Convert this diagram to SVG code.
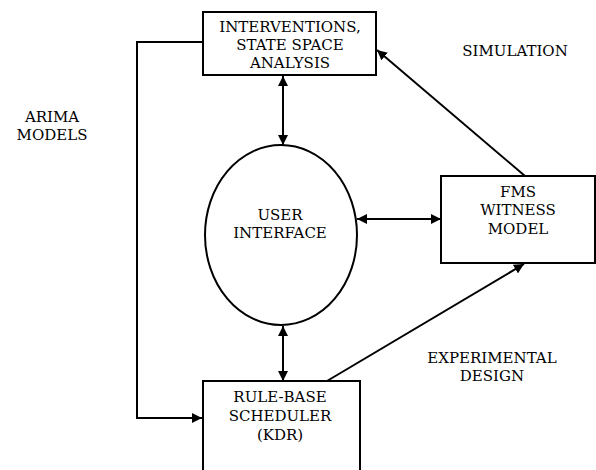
<svg xmlns="http://www.w3.org/2000/svg" width="596" height="470" viewBox="0 0 596 470">
<style>
.box{fill:#fff;stroke:#000;stroke-width:2}
.t{font-family:'DejaVu Serif','Liberation Serif',serif;font-size:15px;fill:#000;text-anchor:middle}
.c{fill:none;stroke:#000;stroke-width:2}
</style>
<defs>
<marker id="ah" viewBox="0 0 10 10" refX="10" refY="5" markerWidth="5" markerHeight="5" orient="auto-start-reverse" markerUnits="strokeWidth">
<path d="M0,0 L10,5 L0,10 z" fill="#000"/>
</marker>
</defs>
<rect width="596" height="470" fill="#fff"/>
<g id="connectors">
<path class="c" d="M203,42 H137 V418 H202" marker-end="url(#ah)" stroke-width="2.5"/>
<line class="c" x1="283" y1="76" x2="283" y2="145" marker-start="url(#ah)" marker-end="url(#ah)"/>
<line class="c" x1="357" y1="219" x2="441" y2="219" marker-start="url(#ah)" marker-end="url(#ah)"/>
<line class="c" x1="283" y1="326" x2="283" y2="381" marker-start="url(#ah)" marker-end="url(#ah)"/>
<line class="c" x1="525" y1="176" x2="377" y2="50" marker-end="url(#ah)"/>
<line class="c" x1="327" y1="381" x2="524" y2="264" marker-end="url(#ah)"/>
</g>
<g id="interventions">
<rect class="box" x="203" y="12" width="173" height="63"/>
<text class="t" x="290" y="32">INTERVENTIONS,</text>
<text class="t" x="290" y="50">STATE SPACE</text>
<text class="t" x="290" y="68">ANALYSIS</text>
</g>
<g id="user-interface">
<ellipse class="box" cx="281" cy="235" rx="76" ry="90"/>
<text class="t" x="280" y="220">USER</text>
<text class="t" x="280" y="238">INTERFACE</text>
</g>
<g id="fms">
<rect class="box" x="441" y="176" width="154" height="87"/>
<text class="t" x="518" y="197">FMS</text>
<text class="t" x="518" y="215">WITNESS</text>
<text class="t" x="518" y="234">MODEL</text>
</g>
<g id="rule-base">
<rect class="box" x="203" y="381" width="157" height="100"/>
<text class="t" x="280" y="402">RULE-BASE</text>
<text class="t" x="280" y="421">SCHEDULER</text>
<text class="t" x="280" y="440">(KDR)</text>
</g>
<g id="labels">
<text class="t" x="515" y="56">SIMULATION</text>
<text class="t" x="52" y="122">ARIMA</text>
<text class="t" x="52" y="140">MODELS</text>
<text class="t" x="492" y="363">EXPERIMENTAL</text>
<text class="t" x="492" y="381">DESIGN</text>
</g>
</svg>
